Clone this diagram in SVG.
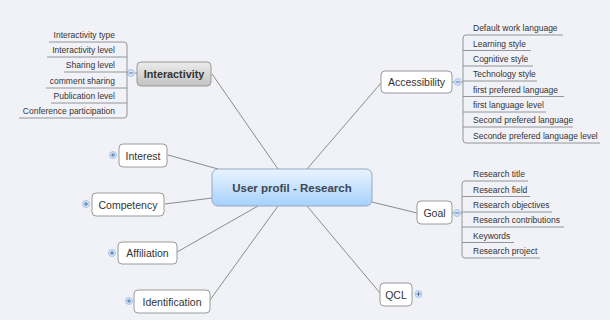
<svg xmlns="http://www.w3.org/2000/svg" width="610" height="320" viewBox="0 0 610 320">
<defs>
<linearGradient id="gC" x1="0" y1="0" x2="0" y2="1"><stop offset="0" stop-color="#e9f4fe"/><stop offset="1" stop-color="#a6d0fa"/></linearGradient>
<linearGradient id="gI" x1="0" y1="0" x2="0" y2="1"><stop offset="0" stop-color="#ececec"/><stop offset="1" stop-color="#c2c2c2"/></linearGradient>
<style>
.n{fill:#fff;stroke:#9a9a9a;stroke-width:1}
.t{font-family:"Liberation Sans",Arial,sans-serif;font-size:10.5px;fill:#333;text-anchor:middle}
.s{font-family:"Liberation Sans",Arial,sans-serif;font-size:8.5px;fill:#333}
.c{fill:none;stroke:#8c8c8c;stroke-width:1}
.u{fill:none;stroke:#8a8a8a;stroke-width:0.9}
.k{fill:#d3e3f6;stroke:#9bbbe3;stroke-width:0.8}
.kp{fill:none;stroke:#4d6f9e;stroke-width:0.9}
</style>
</defs>
<rect width="610" height="320" fill="#f1f2f7"/>
<g id="connectors">
<line class="c" x1="212" y1="74" x2="278" y2="169"/>
<line class="c" x1="381" y1="83" x2="307" y2="169"/>
<line class="c" x1="372" y1="202" x2="417" y2="213"/>
<line class="c" x1="307" y1="206" x2="380" y2="293"/>
<line class="c" x1="168" y1="155" x2="218" y2="169"/>
<line class="c" x1="165" y1="204" x2="212" y2="198"/>
<line class="c" x1="177" y1="252" x2="258" y2="206"/>
<line class="c" x1="210" y1="300" x2="278" y2="206"/>
</g>
<g id="central">
<rect x="212" y="169" width="160" height="37" rx="6" fill="url(#gC)" stroke="#94a9c2"/>
<text x="292" y="191.5" style="font-family:'Liberation Sans',Arial,sans-serif;font-size:11.5px;font-weight:bold;fill:#3d4654;text-anchor:middle">User profil - Research</text>
</g>
<g id="interactivity">
<rect x="137" y="62" width="74" height="24" rx="4" fill="url(#gI)" stroke="#999"/>
<text class="t" x="174" y="78" style="font-weight:bold;font-size:10.8px">Interactivity</text>
<line class="u" x1="134.5" y1="73" x2="137" y2="73"/>
<line class="u" x1="127" y1="73" x2="127.5" y2="73"/>
<circle class="k" cx="131" cy="73" r="3.5"/>
<line class="kp" x1="129" y1="73" x2="133" y2="73"/>
<path class="u" d="M49 42H124a3 3 0 0 1 3 3V115a3 3 0 0 1 -3 3H19"/>
<line class="u" x1="47" y1="57" x2="127" y2="57"/>
<line class="u" x1="64" y1="72" x2="127" y2="72"/>
<line class="u" x1="46" y1="88" x2="127" y2="88"/>
<line class="u" x1="51" y1="103" x2="127" y2="103"/>
<g class="s" style="text-anchor:end">
<text x="115" y="38">Interactivity type</text>
<text x="115" y="53">Interactivity level</text>
<text x="115" y="68">Sharing level</text>
<text x="115" y="84">comment sharing</text>
<text x="115" y="99">Publication level</text>
<text x="115" y="114">Conference participation</text>
</g>
</g>
<g id="accessibility">
<rect class="n" x="381" y="71" width="71" height="22" rx="4"/>
<text class="t" x="416.5" y="86">Accessibility</text>
<line class="u" x1="452" y1="82" x2="463" y2="82"/>
<circle class="k" cx="458" cy="82" r="3.5"/>
<line class="kp" x1="456" y1="82" x2="460" y2="82"/>
<path class="u" d="M563 35H466a3 3 0 0 0 -3 3V140a3 3 0 0 0 3 3H600"/>
<line class="u" x1="463" y1="50.5" x2="531" y2="50.5"/>
<line class="u" x1="463" y1="66" x2="533" y2="66"/>
<line class="u" x1="463" y1="81" x2="537" y2="81"/>
<line class="u" x1="463" y1="96.5" x2="564" y2="96.5"/>
<line class="u" x1="463" y1="112" x2="546" y2="112"/>
<line class="u" x1="463" y1="127" x2="573" y2="127"/>
<g class="s">
<text x="473" y="31">Default work language</text>
<text x="473" y="46.5">Learning style</text>
<text x="473" y="62">Cognitive style</text>
<text x="473" y="77">Technology style</text>
<text x="473" y="92.5">first prefered language</text>
<text x="473" y="108">first language level</text>
<text x="473" y="123">Second prefered language</text>
<text x="473" y="139">Seconde prefered language level</text>
</g>
</g>
<g id="goal">
<rect class="n" x="417" y="201" width="35" height="23" rx="4"/>
<text class="t" x="434.5" y="216.5">Goal</text>
<line class="u" x1="452" y1="213" x2="462" y2="213"/>
<circle class="k" cx="457" cy="213" r="3.5"/>
<line class="kp" x1="455" y1="213" x2="459" y2="213"/>
<path class="u" d="M528 181H465a3 3 0 0 0 -3 3V255a3 3 0 0 0 3 3H540"/>
<line class="u" x1="462" y1="196.5" x2="530" y2="196.5"/>
<line class="u" x1="462" y1="212" x2="552" y2="212"/>
<line class="u" x1="462" y1="227" x2="564" y2="227"/>
<line class="u" x1="462" y1="242.5" x2="514" y2="242.5"/>
<g class="s">
<text x="473" y="177">Research title</text>
<text x="473" y="192.5">Research field</text>
<text x="473" y="208">Research objectives</text>
<text x="473" y="223">Research contributions</text>
<text x="473" y="238.5">Keywords</text>
<text x="473" y="254">Research project</text>
</g>
</g>
<g id="qcl">
<rect class="n" x="380" y="283" width="32" height="23" rx="4"/>
<text class="t" x="396" y="298.5">QCL</text>
<circle class="k" cx="418.5" cy="294" r="3.5"/>
<path class="kp" d="M416.5 294h4M418.5 292v4"/>
</g>
<g id="interest">
<rect class="n" x="119" y="144" width="48" height="23" rx="4"/>
<text class="t" x="143" y="159.5">Interest</text>
<circle class="k" cx="113" cy="155" r="3.5"/>
<path class="kp" d="M111 155h4M113 153v4"/>
</g>
<g id="competency">
<rect class="n" x="92" y="193" width="72" height="23" rx="4"/>
<text class="t" x="128" y="208.5">Competency</text>
<circle class="k" cx="86" cy="204" r="3.5"/>
<path class="kp" d="M84 204h4M86 202v4"/>
</g>
<g id="affiliation">
<rect class="n" x="118" y="242" width="59" height="22" rx="4"/>
<text class="t" x="147.5" y="257">Affiliation</text>
<circle class="k" cx="112" cy="253" r="3.5"/>
<path class="kp" d="M110 253h4M112 251v4"/>
</g>
<g id="identification">
<rect class="n" x="134" y="290" width="76" height="23" rx="4"/>
<text class="t" x="172" y="305.5">Identification</text>
<circle class="k" cx="129" cy="301" r="3.5"/>
<path class="kp" d="M127 301h4M129 299v4"/>
</g>
</svg>
